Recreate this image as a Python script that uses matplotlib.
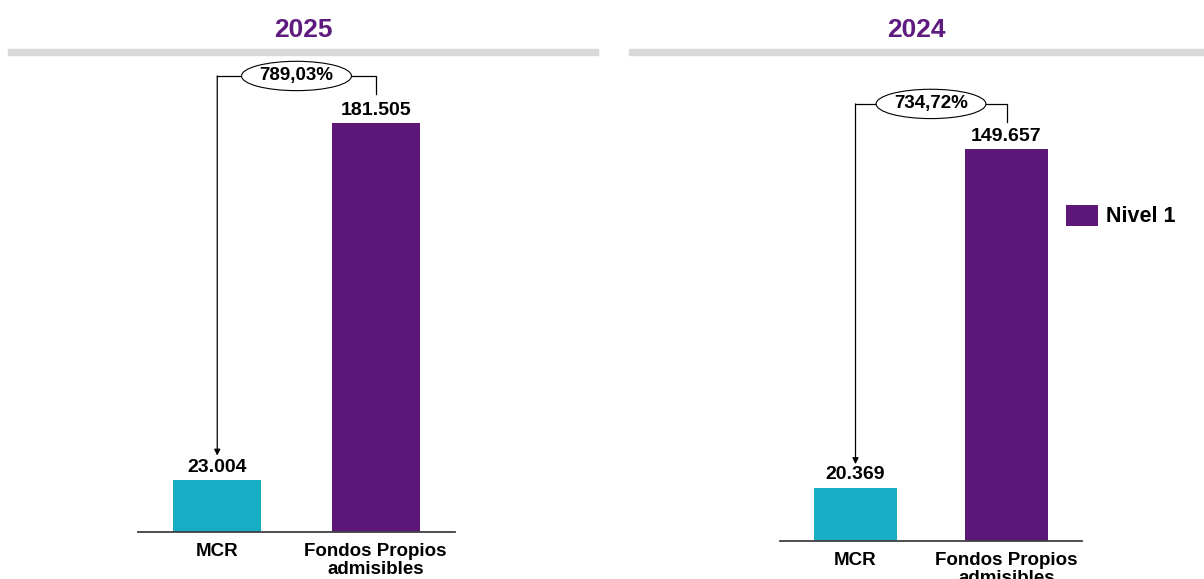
import matplotlib.pyplot as plt
from matplotlib.patches import Rectangle

plt.rcParams['font.family'] = ['Liberation Sans', 'DejaVu Sans']
plt.rcParams['font.weight'] = 'bold'

categories = ["MCR", "Fondos Propios\nadmisibles"]
years = ["2025", "2024"]
values_2025 = [23004, 181505]
values_2024 = [20369, 149657]
ratios = ["789,03%", "734,72%"]
legend_label = "Nivel 1"

TEAL = "#17AEC5"
PURPLE = "#5C1778"
W, H = 1204, 579


def fmt(v):
    return f"{v:,}".replace(",", ".")


def px_rect(x0, y0, x1, y1):
    # pixel box (from top-left) -> figure fraction [left, bottom, width, height]
    return [x0 / W, 1 - y1 / H, (x1 - x0) / W, (y1 - y0) / H]


def draw_panel(ax, values, ratio_txt, ytop):
    bars = ax.bar([0, 1], values, width=0.555, color=[TEAL, PURPLE])
    ax.set_xlim(-0.5, 1.5)
    vmax = max(values)
    ax.set_ylim(0, vmax * ytop)
    ax.bar_label(bars, labels=[fmt(v) for v in values], padding=3,
                 fontsize=14, fontweight='bold')
    ax.set_xticks([0, 1])
    ax.set_xticklabels(categories, fontsize=13.5, fontweight='bold',
                       linespacing=1.1)
    ax.tick_params(axis='x', length=0, pad=8)
    ax.set_yticks([])
    for s in ['top', 'right', 'left']:
        ax.spines[s].set_visible(False)
    ax.spines['bottom'].set_color('#404040')
    ax.spines['bottom'].set_linewidth(1.3)

    # ratio bracket
    y_top = vmax * 1.115
    y_drop = vmax * 1.07
    y_tip = values[0] + vmax * 0.06
    ax.plot([0, 1, 1], [y_top, y_top, y_drop], color='black', lw=0.9,
            clip_on=False)
    ax.annotate("", xy=(0, y_tip), xytext=(0, y_top),
                arrowprops=dict(arrowstyle='-|>', color='black', lw=0.9,
                                mutation_scale=9, shrinkA=0, shrinkB=0),
                annotation_clip=False)
    ax.text(0.5, y_top, ratio_txt, ha='center', va='center',
            fontsize=13.5, fontweight='bold',
            bbox=dict(boxstyle='ellipse,pad=0.1', fc='white', ec='black',
                      lw=0.8))
    return bars


fig = plt.figure(figsize=(W / 100, H / 100), dpi=100)

ax1 = fig.add_axes(px_rect(138, 60, 455, 532))
draw_panel(ax1, values_2025, ratios[0], 472 / 409)
ax2 = fig.add_axes(px_rect(780, 60, 1082, 541))
bars2 = draw_panel(ax2, values_2024, ratios[1], 481 / 392)

# header bands and titles
for (x0, x1), year in zip([(8, 598), (629, 1204)], years):
    fig.patches.append(Rectangle((x0 / W, 1 - 55 / H), (x1 - x0) / W, 6 / H,
                                 transform=fig.transFigure, color='#D9D9D9'))
    fig.text((x0 + x1) / 2 / W, 1 - 30 / H, year, ha='center', va='center',
             fontsize=19, fontweight='bold', color='#5E1A7E')

fig.legend(handles=[bars2[1]], labels=[legend_label], loc='center left',
           bbox_to_anchor=(1066 / W, 1 - 216 / H), frameon=False,
           handlelength=1.5, handleheight=1.15,
           handletextpad=0.35, borderaxespad=0, borderpad=0,
           prop={'weight': 'bold', 'size': 15.5})

fig.savefig("out.png", dpi=100)
